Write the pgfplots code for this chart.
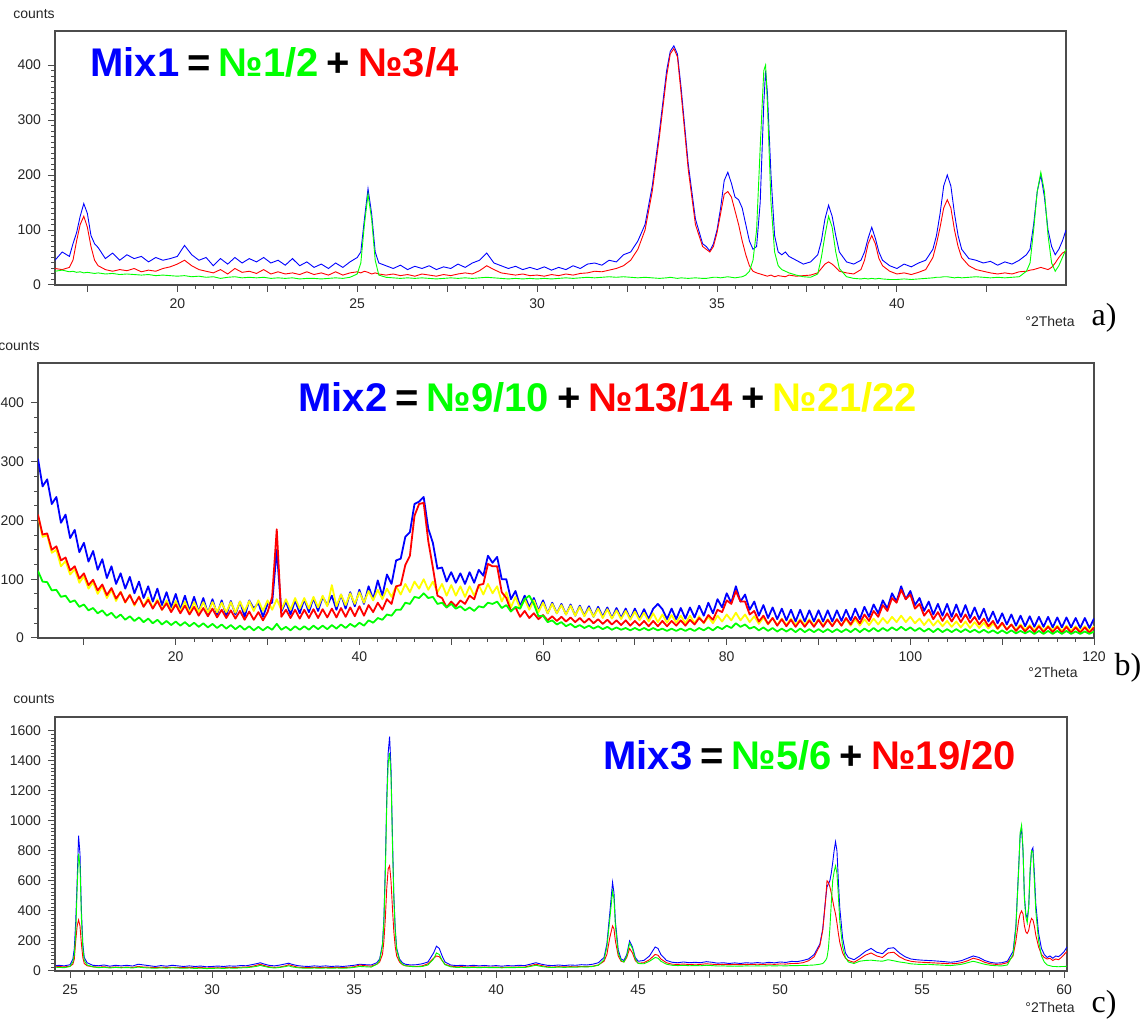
\documentclass[border=0pt]{standalone}
\usepackage{fontspec}
\setmainfont{Liberation Sans}
\newfontfamily\seriffont{Liberation Serif}
\usepackage{pgfplots}
\usepackage{pgfplotstable}
\pgfplotsset{compat=1.18}
\definecolor{cB}{RGB}{0,0,255}
\definecolor{cG}{RGB}{0,255,0}
\definecolor{cR}{RGB}{255,0,0}
\definecolor{cY}{RGB}{255,255,0}
\newcommand\gapsp{\hspace{4pt}}

\pgfplotstableread{
x B G R
16.6 45 25 30
16.8 60 27 28
17.0 52 24 32
17.1 75 25 45
17.2 95 23 80
17.3 125 24 110
17.4 148 22 125
17.5 130 23 105
17.6 90 22 70
17.7 75 21 45
17.8 68 22 35
18.0 48 20 28
18.2 58 21 25
18.4 45 19 28
18.6 55 20 26
18.8 48 19 30
19.0 52 18 24
19.2 42 19 27
19.4 50 17 25
19.6 45 18 30
19.8 48 17 33
20.0 52 16 38
20.2 72 17 45
20.4 55 15 35
20.6 45 16 28
20.8 50 14 25
21.0 35 15 22
21.2 48 12 28
21.4 38 14 20
21.6 50 15 30
21.8 40 13 23
22.0 48 14 25
22.2 42 13 21
22.4 50 14 28
22.6 40 12 20
22.8 45 13 24
23.0 36 12 20
23.2 48 13 22
23.4 35 11 19
23.6 42 12 24
23.8 32 12 19
24.0 38 11 22
24.2 30 12 18
24.4 40 13 24
24.6 32 12 18
24.8 42 14 22
25.0 50 20 24
25.1 60 40 22
25.2 120 110 25
25.3 175 165 23
25.4 130 120 20
25.5 60 45 22
25.6 40 18 20
25.8 35 14 18
26.0 30 13 20
26.2 36 12 17
26.4 28 13 19
26.6 34 12 16
26.8 30 13 20
27.0 35 12 18
27.2 28 11 16
27.4 33 12 19
27.6 30 13 17
27.8 38 12 20
28.0 32 13 22
28.2 40 12 20
28.4 45 13 26
28.6 58 14 35
28.8 40 13 28
29.0 35 12 22
29.2 30 11 20
29.4 34 12 18
29.6 28 11 20
29.8 32 12 17
30.0 28 11 18
30.2 33 12 16
30.4 27 11 19
30.6 32 12 17
30.8 28 13 20
31.0 35 12 18
31.2 30 13 21
31.4 38 14 22
31.6 40 13 25
31.8 36 14 24
32.0 45 15 27
32.2 42 14 30
32.4 55 15 35
32.6 60 14 45
32.8 80 13 65
33.0 110 14 100
33.2 180 13 170
33.4 280 12 270
33.6 390 13 380
33.7 425 14 420
33.8 435 13 430
33.9 420 12 415
34.0 360 13 350
34.2 220 12 210
34.4 120 13 110
34.6 75 12 70
34.7 70 12 65
34.8 62 13 60
34.9 75 14 70
35.0 100 14 95
35.1 140 13 130
35.2 190 14 165
35.3 205 15 170
35.4 185 14 160
35.5 160 13 135
35.6 155 14 110
35.7 140 15 80
35.8 110 18 55
35.9 80 25 35
36.0 65 45 25
36.1 70 100 22
36.2 150 250 20
36.3 330 390 18
36.35 390 400 17
36.4 350 330 16
36.5 200 150 18
36.6 90 60 15
36.7 60 35 17
36.8 55 28 16
36.9 60 25 15
37.0 52 22 18
37.2 45 18 16
37.4 38 15 17
37.6 42 14 18
37.8 55 20 22
37.9 80 50 30
38.0 120 90 38
38.1 145 125 42
38.2 125 105 38
38.3 90 60 32
38.4 60 30 25
38.6 42 15 22
38.8 38 12 20
39.0 45 11 28
39.1 60 12 45
39.2 85 11 75
39.3 105 12 90
39.4 85 11 75
39.5 60 12 48
39.6 45 11 35
39.8 35 10 25
40.0 30 10 20
40.2 38 11 22
40.4 33 10 19
40.6 40 11 23
40.8 45 12 28
41.0 65 13 50
41.1 90 14 75
41.2 130 14 105
41.3 180 15 140
41.4 200 15 155
41.5 180 14 140
41.6 130 13 100
41.7 90 14 70
41.8 65 13 50
42.0 48 14 35
42.2 45 15 28
42.4 40 14 25
42.6 43 13 22
42.8 36 14 20
43.0 42 13 22
43.2 38 14 20
43.4 45 15 24
43.6 55 25 25
43.7 65 40 27
43.8 110 100 28
43.9 170 170 30
44.0 200 205 32
44.1 160 170 30
44.2 100 90 28
44.3 70 40 32
44.4 55 25 40
44.5 65 35 50
44.6 80 50 58
44.7 100 65 62
}\dataA

\pgfplotstableread{
x B R Y G
5.0 305 210 208 114
5.5 258 176 172 96
6.0 270 178 175 95
6.5 228 150 145 81
7.0 240 156 150 82
7.5 196 132 122 70
8.0 210 137 131 72
8.5 170 115 108 61
9.0 184 122 117 64
9.5 146 101 94 53
10.0 162 110 105 57
10.5 130 90 84 47
11.0 148 99 95 51
11.5 116 81 75 42
12.0 134 91 88 47
12.5 102 73 68 38
13.0 122 85 82 43
13.5 92 67 63 34
14.0 110 78 79 40
14.5 84 61 60 31
15.0 104 73 74 37
15.5 76 57 55 29
16.0 96 70 71 35
16.5 68 53 54 27
17.0 88 65 69 33
17.5 62 50 51 25
18.0 84 63 66 31
18.5 56 48 48 23
19.0 78 59 64 29
19.5 52 44 46 22
20.0 75 57 63 28
20.5 48 42 45 21
21.0 72 55 62 27
21.5 46 40 43 20
22.0 70 53 61 26
22.5 44 38 44 19
23.0 68 51 61 25
23.5 42 37 43 18
24.0 66 50 61 24
24.5 40 35 44 17
25.0 64 48 60 23
25.5 38 34 44 16
26.0 63 47 61 22
26.5 40 33 43 15
27.0 62 46 62 21
27.5 36 31 45 14
28.0 64 45 63 20
28.5 50 31 46 13
29.0 60 44 64 19
29.5 36 30 46 13
30.0 58 44 64 19
30.5 60 70 48 14
31.0 150 185 66 24
31.5 45 36 48 14
32.0 62 48 66 19
32.5 40 34 48 13
33.0 64 48 68 20
33.5 42 33 50 14
34.0 66 48 68 20
34.5 44 34 50 14
35.0 68 49 70 21
35.5 46 34 52 15
36.0 70 49 72 21
36.5 56 35 54 15
37.0 72 50 90 22
37.5 48 35 54 16
38.0 74 51 74 23
38.5 50 36 56 17
39.0 78 52 76 24
39.5 54 37 58 19
40.0 82 54 78 26
40.5 58 38 60 21
41.0 88 56 80 30
41.5 66 44 64 26
42.0 98 60 82 34
42.5 72 48 66 31
43.0 108 66 84 40
43.5 92 58 70 38
44.0 132 88 88 48
44.5 135 90 74 48
45.0 172 124 92 60
45.5 180 140 78 58
46.0 228 208 96 70
46.5 232 228 84 68
47.0 240 230 100 76
47.5 186 165 82 68
48.0 162 120 96 70
48.5 118 72 78 58
49.0 120 68 92 60
49.5 96 52 72 52
50.0 112 62 90 58
50.5 94 54 72 50
51.0 110 64 88 54
51.5 92 58 70 47
52.0 112 72 88 52
52.5 94 66 72 46
53.0 116 90 90 54
53.5 106 92 74 52
54.0 140 126 92 60
54.5 128 122 76 58
55.0 138 122 88 62
55.5 100 78 62 51
56.0 100 68 78 56
56.5 66 46 52 45
57.0 80 52 70 53
57.5 54 36 50 50
58.0 72 46 66 66
58.5 52 34 48 72
59.0 68 42 64 58
59.5 46 32 44 37
60.0 64 39 60 38
60.5 42 30 42 27
61.0 60 37 58 30
61.5 42 29 42 23
62.0 58 36 56 27
62.5 40 28 40 20
63.0 57 35 55 24
63.5 38 27 38 18
64.0 55 34 53 22
64.5 38 26 37 17
65.0 54 33 51 21
65.5 36 25 36 16
66.0 53 32 50 20
66.5 36 24 34 15
67.0 52 31 49 19
67.5 34 23 33 14
68.0 51 30 47 18
68.5 34 22 32 14
69.0 50 30 46 17
69.5 32 21 31 13
70.0 50 29 45 17
70.5 32 21 30 13
71.0 49 29 43 17
71.5 32 20 28 13
72.0 50 29 42 17
72.5 58 20 27 13
73.0 49 29 40 16
73.5 32 20 26 12
74.0 50 29 39 16
74.5 32 21 26 12
75.0 51 30 38 16
75.5 33 21 25 12
76.0 52 31 38 16
76.5 35 23 25 12
77.0 55 34 37 17
77.5 38 26 25 13
78.0 60 39 36 18
78.5 42 31 25 13
79.0 66 48 38 19
79.5 52 44 28 15
80.0 76 64 40 21
80.5 60 58 30 17
81.0 88 80 43 25
81.5 62 62 30 19
82.0 74 62 40 23
82.5 48 40 27 16
83.0 62 46 37 19
83.5 38 28 24 13
84.0 56 38 35 18
84.5 34 24 23 12
85.0 52 34 34 17
85.5 32 21 22 11
86.0 50 32 33 16
86.5 30 20 22 11
87.0 48 31 33 16
87.5 28 19 22 10
88.0 48 30 32 16
88.5 28 19 22 10
89.0 47 30 32 15
89.5 28 19 21 10
90.0 47 31 32 15
90.5 28 19 21 10
91.0 47 31 32 15
91.5 28 20 21 10
92.0 47 32 32 15
92.5 29 21 21 10
93.0 48 34 32 15
93.5 30 23 21 10
94.0 50 36 32 16
94.5 32 25 21 10
95.0 53 40 32 16
95.5 36 29 22 11
96.0 57 46 33 17
96.5 42 36 23 11
97.0 64 56 34 17
97.5 50 46 25 12
98.0 76 68 36 18
98.5 62 60 27 13
99.0 88 82 38 19
99.5 66 66 27 13
100.0 80 74 36 18
100.5 56 50 25 12
101.0 68 58 33 17
101.5 46 38 22 11
102.0 62 48 32 16
102.5 40 32 21 10
103.0 58 44 30 16
103.5 38 29 20 10
104.0 58 42 29 15
104.5 36 28 19 10
105.0 57 41 28 15
105.5 36 27 18 10
106.0 56 40 28 15
106.5 34 26 17 10
107.0 52 36 27 14
107.5 32 23 17 9
108.0 50 33 26 14
108.5 28 20 16 9
109.0 45 29 25 13
109.5 25 16 15 8
110.0 42 26 24 13
110.5 23 14 15 8
111.0 40 23 23 13
111.5 21 12 14 8
112.0 38 21 23 12
112.5 20 11 14 8
113.0 37 20 22 12
113.5 19 10 13 7
114.0 36 20 22 12
114.5 19 10 13 7
115.0 36 19 21 12
115.5 18 10 13 7
116.0 35 19 21 12
116.5 18 9 12 7
117.0 35 19 21 12
117.5 18 9 12 7
118.0 34 18 20 11
118.5 17 9 12 7
119.0 34 18 20 11
119.5 17 9 12 7
120.0 33 18 20 11
}\dataB

\pgfplotstableread{
x B G R
24.5 35 25 28
24.6 38 24 30
24.8 34 22 27
25.0 42 30 32
25.1 80 60 45
25.15 150 110 80
25.2 330 250 200
25.25 600 550 300
25.3 900 780 340
25.35 780 700 300
25.4 400 350 180
25.45 180 150 90
25.5 90 70 50
25.6 55 40 35
25.8 38 28 28
26.0 35 22 26
26.2 40 25 28
26.4 32 20 24
26.6 38 24 27
26.8 34 21 24
27.0 38 23 26
27.2 33 20 24
27.4 45 26 30
27.6 40 22 26
27.8 35 20 25
28.0 30 18 22
28.2 36 21 25
28.4 32 19 23
28.6 38 22 25
28.8 34 20 23
29.0 30 18 22
29.2 34 20 24
29.4 30 17 21
29.6 33 19 23
29.8 28 16 20
30.0 30 17 21
30.2 33 19 22
30.4 30 17 21
30.6 34 20 24
30.8 32 18 22
31.0 36 21 25
31.2 35 22 26
31.4 42 26 30
31.6 50 32 40
31.7 55 38 45
31.8 48 32 38
32.0 38 24 28
32.2 34 20 24
32.4 40 24 27
32.6 48 30 35
32.7 52 35 42
32.8 45 28 36
33.0 36 22 26
33.2 32 19 23
33.4 30 18 22
33.6 34 20 24
33.8 31 18 22
34.0 34 20 24
34.2 30 18 22
34.4 33 20 24
34.6 30 18 22
34.8 34 20 25
35.0 38 24 28
35.2 45 30 40
35.4 42 28 35
35.6 40 26 32
35.8 55 45 45
35.9 80 70 60
36.0 180 170 110
36.05 350 330 200
36.1 700 650 350
36.15 1150 1100 550
36.2 1450 1380 680
36.25 1560 1450 700
36.3 1350 1300 600
36.35 900 850 420
36.4 500 480 260
36.45 280 260 160
36.5 150 140 100
36.6 80 70 60
36.7 55 45 42
36.8 45 35 35
37.0 40 30 32
37.2 42 28 30
37.4 48 30 34
37.6 60 40 48
37.8 120 80 85
37.9 165 120 100
38.0 150 110 95
38.1 100 70 70
38.2 60 42 45
38.4 40 28 32
38.6 36 24 28
38.8 38 25 29
39.0 34 22 26
39.2 38 24 28
39.4 34 22 25
39.6 37 24 27
39.8 33 22 25
40.0 36 23 26
40.2 32 21 24
40.4 36 23 26
40.6 34 22 25
40.8 38 24 27
41.0 36 23 26
41.2 45 30 35
41.4 55 38 45
41.6 45 30 36
41.8 38 25 28
42.0 36 23 26
42.2 40 26 29
42.4 36 24 27
42.6 40 26 29
42.8 38 25 28
43.0 42 28 30
43.2 40 27 29
43.4 45 30 32
43.6 55 38 40
43.8 90 75 65
43.9 180 160 110
44.0 380 340 220
44.1 590 530 300
44.15 520 480 280
44.2 330 300 200
44.3 140 120 100
44.4 80 70 65
44.5 70 60 60
44.6 110 100 90
44.7 200 185 150
44.8 160 150 120
44.9 90 80 70
45.0 65 50 52
45.2 70 48 55
45.4 100 65 75
45.6 160 90 110
45.7 150 85 105
45.8 110 65 80
46.0 70 45 55
46.2 58 38 45
46.4 55 36 44
46.6 60 38 46
46.8 55 35 43
47.0 58 36 45
47.2 55 35 44
47.4 62 38 48
47.6 58 36 45
47.8 52 33 42
48.0 55 34 44
48.2 50 32 42
48.4 54 33 44
48.6 50 32 42
48.8 55 34 44
49.0 52 33 43
49.2 56 34 45
49.4 52 33 43
49.6 58 35 46
49.8 54 34 44
50.0 60 35 47
50.2 57 34 46
50.4 64 36 50
50.6 62 36 50
50.8 70 37 55
51.0 80 38 68
51.2 110 40 95
51.4 180 45 170
51.5 280 50 270
51.6 480 70 470
51.65 560 90 600
51.7 580 150 590
51.75 600 280 560
51.8 650 450 520
51.85 720 600 470
51.9 800 660 420
51.95 860 700 380
52.0 800 650 320
52.05 600 500 250
52.1 420 330 190
52.2 220 160 120
52.3 120 90 85
52.4 90 60 70
52.6 75 50 58
52.8 100 65 80
53.0 130 70 105
53.2 150 72 120
53.4 125 68 100
53.6 115 65 90
53.8 150 75 120
54.0 155 68 125
54.2 120 60 95
54.4 95 55 75
54.6 80 48 65
54.8 75 45 60
55.0 72 43 58
55.2 70 45 56
55.4 68 42 54
55.6 65 40 52
55.8 62 38 50
56.0 58 36 48
56.2 62 40 50
56.4 70 45 56
56.6 85 55 68
56.8 100 65 85
57.0 90 55 75
57.2 70 45 58
57.4 58 38 48
57.6 52 35 44
57.8 55 34 46
58.0 65 40 55
58.2 130 110 100
58.3 300 280 200
58.4 700 680 340
58.45 900 920 380
58.5 950 970 400
58.55 800 820 380
58.6 500 480 300
58.65 380 360 260
58.7 350 320 250
58.75 420 420 270
58.8 650 680 320
58.85 800 800 350
58.9 820 790 340
58.95 650 600 300
59.0 450 400 240
59.1 250 200 160
59.2 150 100 110
59.3 110 60 90
59.4 90 40 80
59.5 100 35 85
59.6 85 30 70
59.7 100 30 80
59.8 95 28 75
59.9 110 30 90
60.0 130 30 110
60.1 160 32 130
}\dataC

\pgfplotsset{
  xrd/.style={
    scale only axis,
    anchor=south west,
    axis line style={draw=black!70, line width=0.6pt},
    tick align=outside,
    tick pos=left,
    major tick length=3.5pt,
    minor tick length=1.8pt,
    tick style={draw=black!70, line width=0.5pt},
    ticklabel style={font=\fontsize{7}{8}\selectfont, text=black!85},
    /pgf/number format/assume math mode=true,
    /pgf/number format/1000 sep={},
    extra x tick labels={},
    extra tick style={grid=none, major tick length=3.5pt},
    every axis plot/.append style={no markers, line width=0.45pt},
    clip=true,
  }
}

\begin{document}
\begin{tikzpicture}
\path[use as bounding box] (0pt,0pt) rectangle (572pt,510.5pt);

% ---------- panel a ----------
\begin{axis}[xrd, at={(27.5pt,368pt)}, width=505.5pt, height=127pt,
  xmin=16.6, xmax=44.7, ymin=0, ymax=462,
  xtick={20,25,...,40}, extra x ticks={17.5,22.5,...,42.5}, minor x tick num=9,
  ytick={0,100,...,400}, minor y tick num=9]
\addplot[cB] table[x=x,y=B]{\dataA};
\addplot[cR] table[x=x,y=R]{\dataA};
\addplot[cG] table[x=x,y=G]{\dataA};
\end{axis}

% ---------- panel b ----------
\begin{axis}[xrd, at={(19pt,191.5pt)}, width=528pt, height=137.5pt,
  xmin=5, xmax=120, ymin=0, ymax=468,
  xtick={20,40,...,120}, extra x ticks={10,30,...,110}, minor x tick num=9,
  ytick={0,100,...,400}, minor y tick num=3,
  every axis plot/.append style={line width=0.9pt, line join=round}]
\addplot[cB] table[x=x,y=B]{\dataB};
\addplot[cY] table[x=x,y=Y]{\dataB};
\addplot[cR] table[x=x,y=R]{\dataB};
\addplot[cG] table[x=x,y=G]{\dataB};
\end{axis}

% ---------- panel c ----------
\begin{axis}[xrd, at={(27.5pt,25pt)}, width=506pt, height=127pt,
  xmin=24.47, xmax=60.1, ymin=0, ymax=1690,
  xtick={25,30,...,60}, extra x ticks={27.5,32.5,...,57.5}, minor x tick num=9,
  ytick={0,200,...,1600}, minor y tick num=7]
\addplot[cB] table[x=x,y=B]{\dataC};
\addplot[cR] table[x=x,y=R]{\dataC};
\addplot[cG] table[x=x,y=G]{\dataC};
\end{axis}

% ---------- texts ----------
\tikzset{small/.style={font=\fontsize{7}{8}\selectfont, text=black!85, inner sep=0pt},
         ttl/.style={font=\fontsize{20}{22}\selectfont\bfseries, inner sep=0pt, anchor=base west},
         pan/.style={font=\seriffont\fontsize{16}{18}\selectfont, inner sep=0pt}}
\node[small, anchor=west] at (6.5pt,503.5pt) {counts};
\node[small, anchor=west] at (-1pt,337.5pt) {counts};
\node[small, anchor=west] at (6.5pt,161pt) {counts};

\node[small] at (525pt,349.5pt) {°2Theta};
\node[small] at (526.5pt,174pt) {°2Theta};
\node[small] at (525pt,7pt) {°2Theta};

\node[pan] at (552pt,351.5pt) {a)};
\node[pan] at (564pt,176.5pt) {b)};
\node[pan] at (552pt,8pt) {c)};

\node[ttl] at (45pt,472pt) {\textcolor{cB}{Mix1}\gapsp=\gapsp\textcolor{cG}{№1/2}\gapsp+\gapsp\textcolor{cR}{№3/4}};
\node[ttl] at (149pt,304.5pt) {\textcolor{cB}{Mix2}\gapsp=\gapsp\textcolor{cG}{№9/10}\gapsp+\gapsp\textcolor{cR}{№13/14}\gapsp+\gapsp\textcolor{cY}{№21/22}};
\node[ttl] at (301.5pt,125.5pt) {\textcolor{cB}{Mix3}\gapsp=\gapsp\textcolor{cG}{№5/6}\gapsp+\gapsp\textcolor{cR}{№19/20}};
\end{tikzpicture}
\end{document}
